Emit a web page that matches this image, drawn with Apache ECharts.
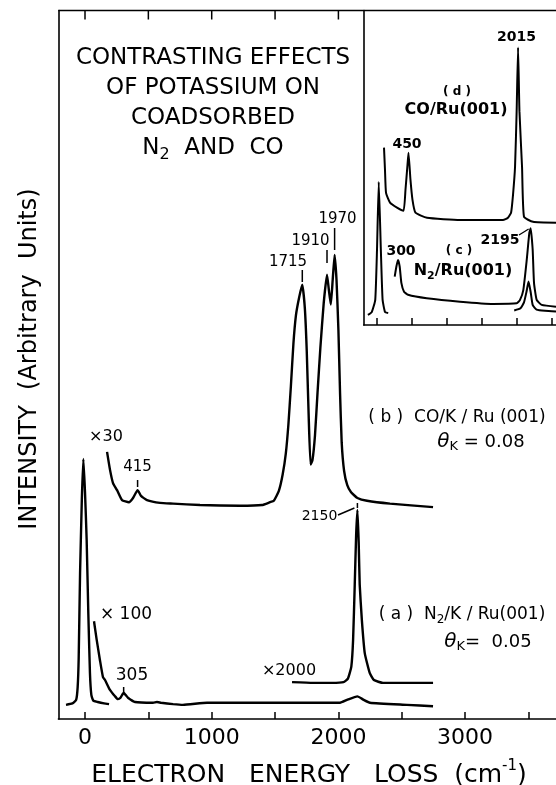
<!DOCTYPE html>
<html>
<head>
<meta charset="utf-8">
<script src="https://cdn.jsdelivr.net/npm/echarts@6.0.0/dist/echarts.min.js"></script>
<style>
  html, body { margin: 0; padding: 0; background: #fff; }
  #chart { width: 556px; height: 785px; }
</style>
</head>
<body>
<div id="chart"></div>
<script>
// ---------- spectra: electron energy loss (cm^-1) vs intensity (arbitrary units) ----------

// (a) N2/K/Ru(001), theta_K = 0.05 : elastic peak (x1)
const aElasticLoss = [-150, -100, -70, -58, -50, -39, -25, -13, 0, 13, 26, 39, 50, 65, 100, 150, 190];
const aElasticInt  = [2.0, 2.2, 2.7, 4.5, 8.5, 20.6, 31.0, 36.7, 32.0, 25.3, 15.0, 6.5, 3.4, 2.6, 2.4, 2.2, 2.1];

// (a) x100 trace
const aX100Loss = [71, 92, 118, 142, 158, 197, 237, 260, 280, 305, 320, 339, 395, 537, 568, 600, 695, 773, 963, 1223, 1484, 1752, 2013, 2068, 2150, 2200, 2249, 2541, 2747];
const aX100Int  = [13.8, 11.2, 8.3, 5.9, 5.5, 4.1, 3.2, 2.8, 3.0, 3.7, 3.4, 3.0, 2.4, 2.3, 2.4, 2.3, 2.1, 2.0, 2.3, 2.3, 2.3, 2.3, 2.3, 2.7, 3.2, 2.7, 2.3, 2.0, 1.8];

// (a) x2000 trace around the N-N stretch
const aX2000Loss = [1634, 1800, 1950, 2040, 2075, 2102, 2116, 2129, 2140, 2150, 2160, 2168, 2185, 2208, 2247, 2280, 2352, 2550, 2747];
const aX2000Int  = [5.2, 5.1, 5.1, 5.2, 5.7, 7.4, 11.2, 19.0, 26.0, 29.5, 25.0, 19.0, 14.0, 9.3, 6.5, 5.5, 5.1, 5.1, 5.1];

// (b) CO/K/Ru(001), theta_K = 0.08 : x30 trace
const bX30Loss = [174, 197, 221, 253, 292, 347, 379, 415, 442, 489, 592, 695, 908, 1223, 1397, 1460, 1490, 1530, 1560, 1585, 1605, 1625, 1645, 1665, 1690, 1715, 1735, 1750, 1765, 1780, 1795, 1815, 1835, 1858, 1884, 1910, 1925, 1940, 1955, 1970, 1985, 2000, 2013, 2026, 2045, 2070, 2100, 2150, 2226, 2407, 2747];
const bX30Int  = [37.7, 35.2, 33.3, 32.3, 30.9, 30.6, 31.2, 32.3, 31.5, 30.9, 30.5, 30.4, 30.2, 30.1, 30.2, 30.6, 30.8, 32.2, 34.5, 37.5, 41.5, 47.0, 53.0, 57.0, 59.5, 61.3, 58.0, 52.0, 43.0, 35.9, 36.5, 40.0, 46.0, 52.5, 58.7, 62.7, 60.5, 58.5, 62.0, 65.5, 62.0, 54.9, 46.0, 39.0, 35.0, 33.0, 32.0, 31.2, 30.8, 30.4, 29.9];

// inset (d) CO/Ru(001)
const dLoss = [100, 114, 129, 186, 286, 379, 407, 436, 450, 478, 507, 550, 714, 1186, 1800, 1871, 1915, 1943, 1972, 1995, 2015, 2035, 2072, 2100, 2229, 2557];
const dInt  = [56.4, 49.4, 42.0, 38.9, 37.3, 36.3, 43.0, 51.0, 54.8, 46.2, 39.8, 35.7, 34.1, 33.4, 33.4, 34.1, 35.7, 41.4, 50.3, 68.0, 88.2, 68.0, 50.3, 34.4, 32.8, 32.5];

// inset (c) N2/Ru(001): elastic peak
const cElasticLoss = [-130, -75, -25, 0, 25, 55, 80, 115, 160];
const cElasticInt  = [3.2, 4.1, 8.0, 23.9, 45.5, 23.9, 8.0, 4.1, 3.8];

// inset (c) expanded trace
const cGainLoss = [253, 277, 300, 324, 348, 386, 443, 710, 1186, 1661, 1996, 2043, 2090, 2139, 2176, 2195, 2224, 2243, 2281, 2353, 2557];
const cGainInt  = [15.4, 18.6, 20.7, 18.6, 13.4, 10.6, 9.6, 8.5, 7.4, 6.7, 6.9, 8.0, 11.1, 20.7, 29.3, 30.8, 23.9, 13.4, 8.0, 6.4, 5.8];

// inset (c) unexpanded trace near the N-N stretch
const cX1Loss = [1960, 2050, 2100, 2135, 2165, 2195, 2225, 2280, 2400, 2557];
const cX1Int  = [4.6, 5.3, 7.2, 10.5, 13.8, 10.5, 6.3, 4.9, 4.5, 4.3];

// axis ticks and labels (cm^-1)
const mainTicks = [0, 500, 1000, 1500, 2000, 2500, 3000, 3500];
const mainLabels = [0, 1000, 2000, 3000];
const topTicks = [0, 500, 1000, 1500, 2000];
const insetTicks = [0, 500, 1000, 1500, 2000, 2500];

// ---------- layout ----------
const FONT = "'DejaVu Sans', sans-serif";
const MAIN = { min: -210, max: 3800, pxPerUnit: 0.1267, left: 58.4, top: 10.5, height: 708.5 };
const INSET = { min: -190, max: 2700, pxPerUnit: 0.07, left: 363.7, top: 10.5, height: 314.5 };

const zip = (xs, ys) => xs.map((x, i) => [x, ys[i]]);

const chart = echarts.init(document.getElementById('chart'), null, { renderer: 'canvas' });

function gridDef(cfg) {
  return {
    left: cfg.left, top: cfg.top,
    width: (cfg.max - cfg.min) * cfg.pxPerUnit, height: cfg.height,
    containLabel: false, outerBoundsMode: 'none'
  };
}

function lineSeries(name, xs, ys, grid, width) {
  return {
    name, type: 'line',
    xAxisIndex: grid, yAxisIndex: grid,
    data: zip(xs, ys),
    showSymbol: false, symbol: 'none',
    smooth: 0.15,
    lineStyle: { color: '#000', width: width },
    silent: true, animation: false, z: 3
  };
}

const axisLine = () => ({ show: true, onZero: false, lineStyle: { color: '#000', width: 1.6 } });

function xAxisDef(grid, cfg, ticks, labels) {
  return {
    type: 'value', gridIndex: grid, position: 'bottom',
    min: cfg.min, max: cfg.max,
    axisLine: axisLine(),
    axisTick: { show: true, inside: true, length: 7, customValues: ticks, lineStyle: { color: '#000', width: 1.5 } },
    axisLabel: labels
      ? { show: true, customValues: labels, color: '#000', fontSize: 22, fontFamily: FONT, margin: 8, formatter: v => String(v) }
      : { show: false },
    splitLine: { show: false }
  };
}

function yAxisDef(grid) {
  return {
    type: 'value', gridIndex: grid, position: 'left', min: 0, max: 100,
    axisLine: axisLine(), axisTick: { show: false }, axisLabel: { show: false },
    splitLine: { show: false }
  };
}

chart.setOption({
  backgroundColor: '#fff',
  animation: false,
  grid: [gridDef(MAIN), gridDef(INSET)],
  xAxis: [
    xAxisDef(0, MAIN, mainTicks, mainLabels),
    xAxisDef(1, INSET, insetTicks, null)
  ],
  yAxis: [yAxisDef(0), yAxisDef(1)],
  series: [
    lineSeries('(a) x1', aElasticLoss, aElasticInt, 0, 2.4),
    lineSeries('(a) x100', aX100Loss, aX100Int, 0, 2.4),
    lineSeries('(a) x2000', aX2000Loss, aX2000Int, 0, 2.4),
    lineSeries('(b) x30', bX30Loss, bX30Int, 0, 2.4),
    lineSeries('(d)', dLoss, dInt, 1, 2.0),
    lineSeries('(c) x1 elastic', cElasticLoss, cElasticInt, 1, 2.0),
    lineSeries('(c) expanded', cGainLoss, cGainInt, 1, 2.0),
    lineSeries('(c) x1', cX1Loss, cX1Int, 1, 2.0)
  ]
});

// ---------- frame top, ticks and annotations ----------
const mainX = v => chart.convertToPixel({ xAxisIndex: 0 }, v);
const insetX = v => chart.convertToPixel({ xAxisIndex: 1 }, v);
const frameTop = chart.convertToPixel({ yAxisIndex: 0 }, 100);

const subStyle = size => ({ fontSize: size, fontFamily: FONT, fill: '#000', verticalAlign: 'bottom', lineHeight: size });

function text(x, y, str, size, extra) {
  const e = extra || {};
  return {
    type: 'text', x, y, rotation: e.rotation || 0, silent: true, z: 10,
    style: {
      text: str, fontSize: size, fontFamily: FONT, fill: '#000',
      fontWeight: e.bold ? 'bold' : 'normal',
      align: 'center', verticalAlign: 'middle',
      lineHeight: e.lineHeight || Math.round(size * 1.3),
      rich: {
        sub: Object.assign(subStyle(Math.round(size * 0.7)), { fontWeight: e.bold ? 'bold' : 'normal' }),
        sup: { fontSize: Math.round(size * 0.6), fontFamily: FONT, fill: '#000', verticalAlign: 'top', lineHeight: Math.round(size * 0.6) },
        th: { fontSize: size + 2, fontFamily: FONT, fill: '#000', fontStyle: 'italic', lineHeight: Math.round(size * 1.3) }
      }
    }
  };
}

function seg(x1, y1, x2, y2, w) {
  return { type: 'line', silent: true, z: 10, shape: { x1, y1, x2, y2 }, style: { stroke: '#000', lineWidth: w || 1.5 } };
}

const graphics = [
  // top frame line of the main panel and its inward ticks
  seg(MAIN.left, frameTop, 556, frameTop, 1.6),
  ...topTicks.map(v => seg(mainX(v), frameTop, mainX(v), frameTop + 9, 1.5)),

  text(213, 103, 'CONTRASTING EFFECTS\nOF POTASSIUM ON\nCOADSORBED\nN{sub|2}  AND  CO', 23, { lineHeight: 30 }),
  text(30, 359, 'INTENSITY  (Arbitrary  Units)', 24, { rotation: Math.PI / 2 }),
  text(309, 775, 'ELECTRON   ENERGY   LOSS  (cm{sup|-1})', 25, { lineHeight: 32 }),

  // (b) labels
  text(288, 262, '1715', 15),
  text(310.5, 241, '1910', 15),
  text(337.5, 219, '1970', 15),
  seg(mainX(1715), 270, mainX(1715), 282),
  seg(mainX(1910), 250, mainX(1910), 263),
  seg(mainX(1970), 228, mainX(1970), 250),
  text(106, 437, '×30', 16),
  text(137.5, 467.5, '415', 15),
  seg(mainX(415), 480, mainX(415), 487),
  text(457, 418, '( b )  CO/K / Ru (001)', 17),
  text(481, 442, '{th|θ}{sub|K} = 0.08', 18),

  // (a) labels
  text(126, 615, '× 100', 17),
  text(132, 676, '305', 17),
  seg(mainX(305), 687, mainX(305), 692),
  text(289, 671, '×2000', 16),
  text(319.5, 516, '2150', 14),
  seg(338, 515, mainX(2150) - 3, 508),
  seg(mainX(2150), 503, mainX(2150), 508),
  text(462, 615, '( a )  N{sub|2}/K / Ru(001)', 17),
  text(488, 642, '{th|θ}{sub|K}=  0.05', 18),

  // inset labels
  text(516.5, 37, '2015', 14, { bold: true }),
  text(457, 92, '( d )', 12, { bold: true }),
  text(456, 110, 'CO/Ru(001)', 16, { bold: true }),
  text(407, 144, '450', 14, { bold: true }),
  text(401, 251, '300', 14, { bold: true }),
  text(459, 251, '( c )', 12, { bold: true }),
  text(463, 271, 'N{sub|2}/Ru(001)', 16, { bold: true }),
  text(500, 240, '2195', 14, { bold: true }),
  seg(519, 235, insetX(2195) - 2, 229, 1.3)
];

chart.setOption({ graphic: { elements: graphics } });
</script>
</body>
</html>
